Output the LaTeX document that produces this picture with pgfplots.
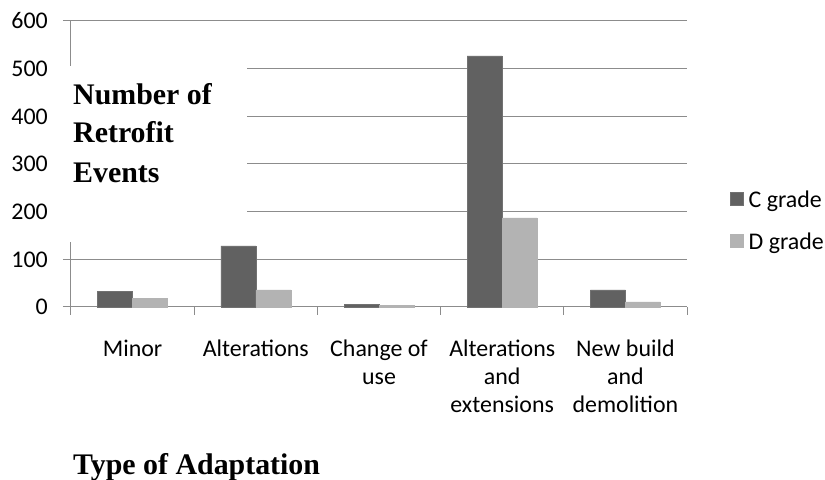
\documentclass[border=0pt]{standalone}
\usepackage{fontspec}
\setmainfont{Liberation Serif}
\newfontfamily\calibri{Carlito}
\usepackage{pgfplots}
\pgfplotsset{compat=1.18}

\definecolor{cgrade}{HTML}{616161}
\definecolor{dgrade}{HTML}{B3B3B3}
\definecolor{gridgray}{HTML}{8C8C8C}

\newcommand\labelfont{\calibri\fontsize{24}{28.5}\selectfont}

\pgfplotsset{
  square legend/.style={legend image code/.code={\path[##1] (0bp,-5bp) rectangle (13bp,8bp);}},
}

\begin{document}
\begin{tikzpicture}[x=1bp,y=1bp]
\path[use as bounding box] (-71,-173) rectangle (754,307);
\begin{axis}[
  at={(0,0)}, anchor=south west,
  width=616bp, height=286bp, scale only axis,
  ymin=0, ymax=600, ytick={0,100,...,600},
  yticklabel={\labelfont\pgfmathprintnumber{\tick}},
  xmin=-0.5, xmax=4.5,
  xtick={-0.5,0.5,...,4.5},
  xticklabels={,,,,,},
  extra x ticks={0,1,2,3,4},
  extra x tick labels={\strut Minor, \strut Alterations, \strut Change of\\use, \strut Alterations\\and\\extensions, \strut New build\\and\\demolition},
  extra x tick style={major tick length=0pt},
  axis lines*=left,
  axis line style={gridgray, line width=1bp},
  tick style={gridgray, line width=1bp},
  tick align=outside,
  major tick length=8bp,
  ymajorgrids,
  grid style={gridgray, line width=1bp},
  /pgf/number format/assume math mode=true,
  yticklabel style={font=\labelfont, anchor=east, inner sep=0pt, xshift=-15bp},
  xticklabel style={font=\labelfont, align=center, anchor=north, inner sep=0pt, yshift=-29bp},
  clip=false,
  legend style={at={(axis description cs:1.065,0.30)}, anchor=west, draw=none, fill=none,
    font=\labelfont, row sep=24bp,
    nodes={inner sep=0pt},
    /tikz/every odd column/.append style={column sep=5bp}},
  legend cell align=left,
]
\addplot[ybar, bar width=0.284, bar shift=-0.142, fill=cgrade, draw=cgrade!90!white, square legend]
  coordinates {(0,33) (1,128) (2,5) (3,527) (4,36)};
\addplot[ybar, bar width=0.284, bar shift=0.142, fill=dgrade, draw=dgrade, square legend]
  coordinates {(0,18) (1,36) (2,3) (3,187) (4,11)};
\legend{C grade, D grade}
\end{axis}
% white panel behind the vertical axis title
\fill[white] (-10,65) rectangle (176,241);
\begin{scope}[every node/.style={anchor=base west, inner sep=0pt, font=\bfseries\fontsize{30}{36}\selectfont}]
\node at (2,202) {Number of};
\node at (2,164) {Retrofit};
\node at (2,124) {Events};
\node at (2,-168) {Type of Adaptation};
\end{scope}
\end{tikzpicture}
\end{document}
